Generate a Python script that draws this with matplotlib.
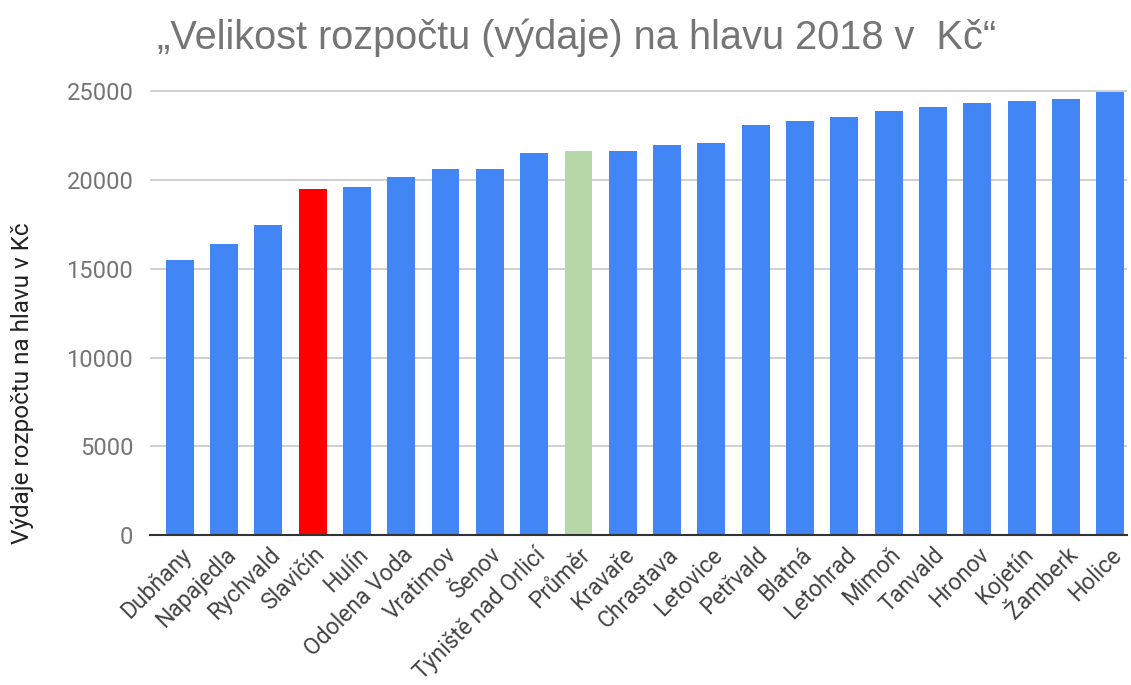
import numpy as np
import matplotlib.pyplot as plt

mesta = ['Dubňany', 'Napajedla', 'Rychvald', 'Slavičín', 'Hulín', 'Odolena Voda',
         'Vratimov', 'Šenov', 'Týniště nad Orlicí', 'Průměr', 'Kravaře', 'Chrastava',
         'Letovice', 'Petřvald', 'Blatná', 'Letohrad', 'Mimoň', 'Tanvald', 'Hronov',
         'Kojetín', 'Žamberk', 'Holice']
vydaje = [15500, 16420, 17460, 19500, 19600, 20160, 20630, 20630, 21530, 21650,
          21650, 21990, 22100, 23130, 23350, 23560, 23920, 24140, 24370, 24480,
          24590, 24960]
yticks = [0, 5000, 10000, 15000, 20000, 25000]

barvy = ['#4285f4'] * len(mesta)
barvy[mesta.index('Slavičín')] = '#ff0000'
barvy[mesta.index('Průměr')] = '#b6d7a8'

fig = plt.figure(figsize=(11.31, 6.85), dpi=100)
ax = fig.add_axes([0.1326, 0.2190, 0.8639, 0.6552])

x = np.arange(len(mesta))
ax.bar(x, vydaje, width=0.63, color=barvy, zorder=3)

ax.set_xlim(-0.67, 21.38)
ax.set_ylim(0, 25300)
ax.set_yticks(yticks)
ax.set_yticklabels([str(t) for t in yticks], fontsize=17, color='#757575', family='Roboto')
ax.yaxis.grid(True, color='#cccccc', linewidth=1.3, zorder=0)
ax.tick_params(axis='both', length=0)
ax.tick_params(axis='y', pad=12)

ax.set_xticks(x)
ax.set_xticklabels(mesta, rotation=45, ha='right', rotation_mode='anchor',
                   fontsize=16.5, color='#444444', family='Roboto')
ax.tick_params(axis='x', pad=6)

for s in ['top', 'right', 'left']:
    ax.spines[s].set_visible(False)
ax.spines['bottom'].set_color('#333333')
ax.spines['bottom'].set_linewidth(1.5)
ax.spines['bottom'].set_zorder(4)

fig.text(0.0195, 0.441, 'Výdaje rozpočtu na hlavu v Kč', rotation=90,
         ha='center', va='center', fontsize=17.5, color='#222222', family='Roboto')

fig.text(0.5097, 0.945, '„Velikost rozpočtu (výdaje) na hlavu 2018 v  Kč“',
         ha='center', va='center', fontsize=28.6, color='#757575', family='Liberation Sans')

fig.savefig('out.png', dpi=100)
